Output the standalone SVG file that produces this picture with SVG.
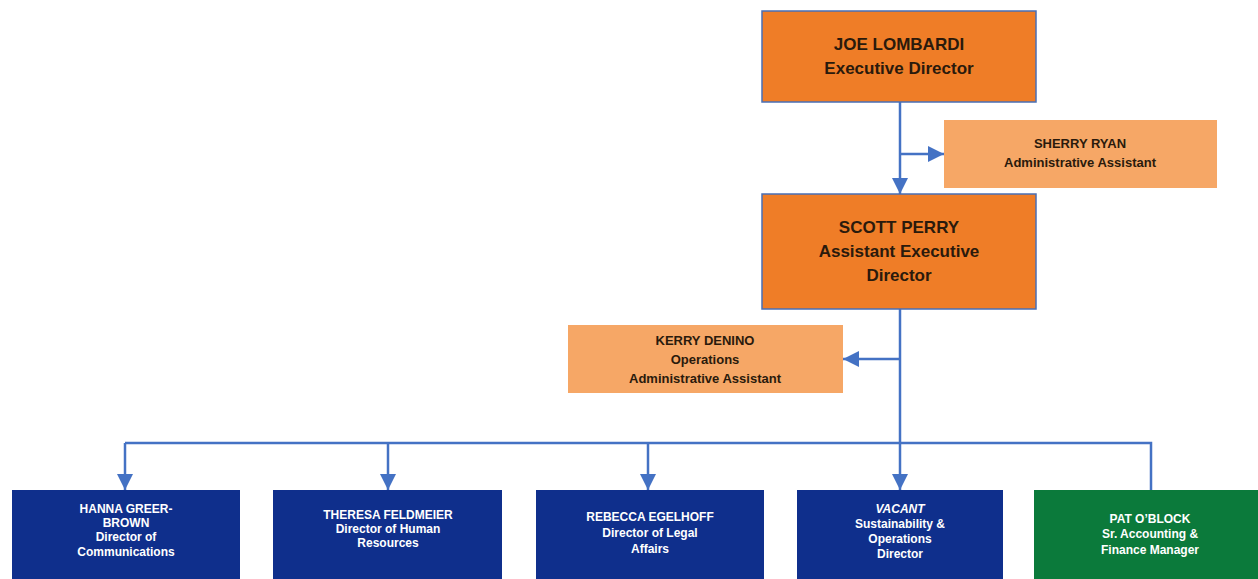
<svg xmlns="http://www.w3.org/2000/svg" width="1258" height="579" viewBox="0 0 1258 579">
  <defs>
    <marker id="arrow" markerUnits="userSpaceOnUse" markerWidth="18" markerHeight="18" refX="16" refY="8" orient="auto">
      <path d="M0,0 L16,8 L0,16 Z" fill="#4472C4"/>
    </marker>
    <style>
      .lead { fill: #EF7D27; stroke: #4A6FB5; stroke-width: 1.5; }
      .assist { fill: #F6A766; }
      .dir { fill: #0F2F8C; }
      .fin { fill: #0B7A3B; }
      .conn { fill: none; stroke: #4472C4; stroke-width: 2.5; }
      text { font-family: "Liberation Sans", Arial, sans-serif; font-weight: bold; text-anchor: middle; }
      .dark { fill: #2A1A0C; }
      .light { fill: #FFFFFF; }
      .big { font-size: 17px; }
      .mid { font-size: 13px; }
      .small { font-size: 12px; }
    </style>
  </defs>

  <rect width="1258" height="579" fill="#FFFFFF"/>

  <!-- reporting lines -->
  <g id="connectors">
    <path class="conn" d="M900,102 V194" marker-end="url(#arrow)"/>
    <path class="conn" d="M900,154 H944" marker-end="url(#arrow)"/>
    <path class="conn" d="M900,309 V490" marker-end="url(#arrow)"/>
    <path class="conn" d="M900,359 H843" marker-end="url(#arrow)"/>
    <path class="conn" d="M125,443 H1151 V490"/>
    <path class="conn" d="M125,443 V490" marker-end="url(#arrow)"/>
    <path class="conn" d="M388,443 V490" marker-end="url(#arrow)"/>
    <path class="conn" d="M648,443 V490" marker-end="url(#arrow)"/>
  </g>

  <g id="joe-lombardi">
    <rect class="lead" x="762" y="11" width="274" height="91"/>
    <text class="dark big" x="899" y="50">JOE LOMBARDI</text>
    <text class="dark big" x="899" y="74">Executive Director</text>
  </g>

  <g id="sherry-ryan">
    <rect class="assist" x="944" y="120" width="273" height="68"/>
    <text class="dark mid" x="1080" y="148">SHERRY RYAN</text>
    <text class="dark mid" x="1080" y="167">Administrative Assistant</text>
  </g>

  <g id="scott-perry">
    <rect class="lead" x="762" y="194" width="274" height="115"/>
    <text class="dark big" x="899" y="233">SCOTT PERRY</text>
    <text class="dark big" x="899" y="257">Assistant Executive</text>
    <text class="dark big" x="899" y="281">Director</text>
  </g>

  <g id="kerry-denino">
    <rect class="assist" x="568" y="325" width="275" height="68"/>
    <text class="dark mid" x="705" y="345">KERRY DENINO</text>
    <text class="dark mid" x="705" y="364">Operations</text>
    <text class="dark mid" x="705" y="383">Administrative Assistant</text>
  </g>

  <g id="hanna-greer-brown">
    <rect class="dir" x="12" y="490" width="228" height="95"/>
    <text class="light small" x="126" y="513">HANNA GREER-</text>
    <text class="light small" x="126" y="527">BROWN</text>
    <text class="light small" x="126" y="541">Director of</text>
    <text class="light small" x="126" y="556">Communications</text>
  </g>

  <g id="theresa-feldmeier">
    <rect class="dir" x="273" y="490" width="229" height="95"/>
    <text class="light small" x="388" y="519">THERESA FELDMEIER</text>
    <text class="light small" x="388" y="533">Director of Human</text>
    <text class="light small" x="388" y="547">Resources</text>
  </g>

  <g id="rebecca-egelhoff">
    <rect class="dir" x="536" y="490" width="228" height="95"/>
    <text class="light small" x="650" y="521">REBECCA EGELHOFF</text>
    <text class="light small" x="650" y="537">Director of Legal</text>
    <text class="light small" x="650" y="553">Affairs</text>
  </g>

  <g id="vacant">
    <rect class="dir" x="797" y="490" width="206" height="95"/>
    <text class="light small" x="900" y="513" font-style="italic">VACANT</text>
    <text class="light small" x="900" y="528">Sustainability &amp;</text>
    <text class="light small" x="900" y="543">Operations</text>
    <text class="light small" x="900" y="558">Director</text>
  </g>

  <g id="pat-oblock">
    <rect class="fin" x="1034" y="490" width="232" height="95"/>
    <text class="light small" x="1150" y="523">PAT O’BLOCK</text>
    <text class="light small" x="1150" y="538">Sr. Accounting &amp;</text>
    <text class="light small" x="1150" y="554">Finance Manager</text>
  </g>
</svg>
